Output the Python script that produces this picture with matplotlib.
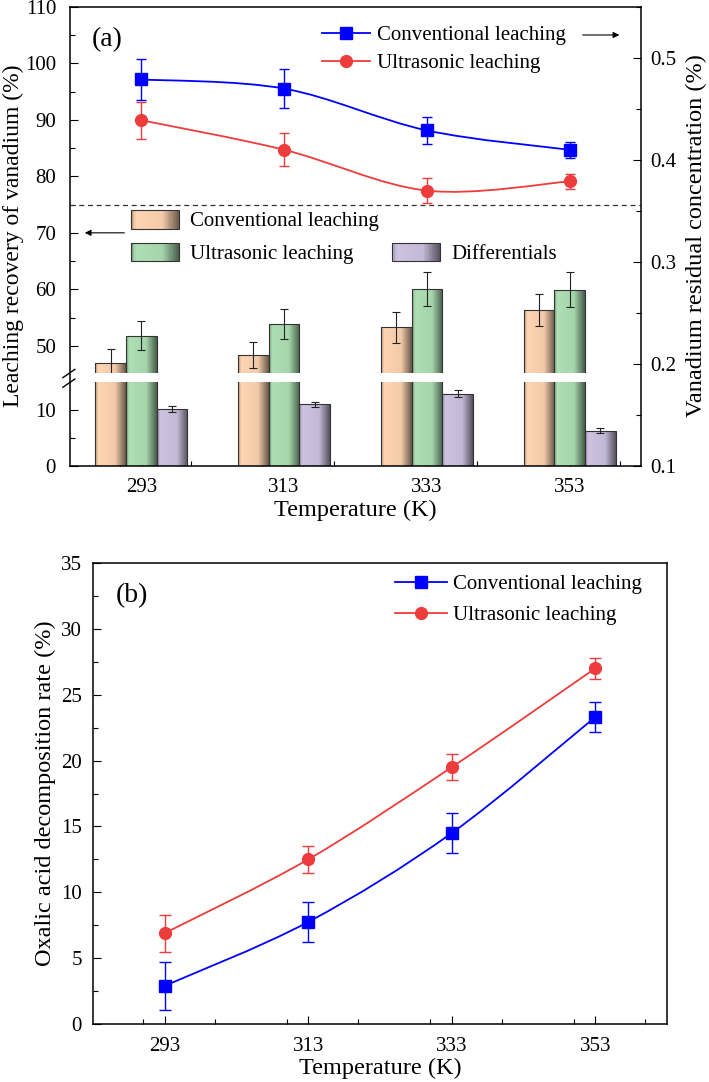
import numpy as np
import matplotlib
import matplotlib.pyplot as plt
import matplotlib.patches as mpatches
from matplotlib.path import Path
from matplotlib.lines import Line2D
from matplotlib.legend_handler import HandlerBase
from matplotlib.ticker import MultipleLocator, FixedLocator

matplotlib.use("Agg")

plt.rcParams["font.family"] = ["Liberation Serif", "DejaVu Serif"]

temperature = [293, 313, 333, 353]

# (a) bars, left axis (%)
conv_recovery = [46.9, 48.4, 53.3, 56.3]
conv_recovery_err = [2.5, 2.3, 2.7, 2.8]
ultra_recovery = [51.8, 53.9, 60.1, 59.9]
ultra_recovery_err = [2.6, 2.7, 3.0, 3.1]
diff_recovery = [10.2, 11.0, 12.9, 6.3]
diff_recovery_err = [0.5, 0.5, 0.6, 0.4]

# (a) lines, right axis (%)
conv_residual = [0.479, 0.470, 0.429, 0.410]
conv_residual_err = [0.020, 0.019, 0.013, 0.008]
ultra_residual = [0.439, 0.410, 0.370, 0.379]
ultra_residual_err = [0.018, 0.016, 0.012, 0.007]

# (b) oxalic acid decomposition rate (%)
conv_oxalic = [2.9, 7.75, 14.5, 23.3]
conv_oxalic_err = [1.8, 1.55, 1.5, 1.15]
ultra_oxalic = [6.9, 12.5, 19.5, 27.0]
ultra_oxalic_err = [1.4, 1.05, 1.0, 0.8]

BLUE = "#0000FF"
RED = "#EE3B3B"
PEACH = "#FFD5B2"
GREEN = "#AEE0B4"
LAVENDER = "#CDC3E1"
EDGE = "#333333"
FS = 15
LFS = 17.5


def shade(color, t):
    f = np.interp(t, [0.0, 0.1, 0.65, 1.0], [0.72, 1.0, 0.95, 0.42])
    return tuple(np.clip(np.array(matplotlib.colors.to_rgb(color)) * f, 0, 1))


class GradientHandler(HandlerBase):
    def create_artists(self, legend, orig_handle, xdescent, ydescent,
                       width, height, fontsize, trans):
        color = orig_handle.get_facecolor()
        n = 30
        artists = []
        for i in range(n):
            r = mpatches.Rectangle((-xdescent + width * i / n, -ydescent),
                                   width / n * 1.1, height,
                                   facecolor=shade(color, (i + 0.5) / n),
                                   edgecolor="none", transform=trans)
            artists.append(r)
        artists.append(mpatches.Rectangle((-xdescent, -ydescent), width, height,
                                          facecolor="none", edgecolor=EDGE,
                                          lw=0.8, transform=trans))
        return artists


def smooth_path(xs, ys):
    pts = list(zip(xs, ys))
    n = len(pts)
    verts = [pts[0]]
    codes = [Path.MOVETO]
    for i in range(n - 1):
        p0 = pts[max(i - 1, 0)]
        p1 = pts[i]
        p2 = pts[i + 1]
        p3 = pts[min(i + 2, n - 1)]
        c1 = (p1[0] + (p2[0] - p0[0]) / 6, p1[1] + (p2[1] - p0[1]) / 6)
        c2 = (p2[0] - (p3[0] - p1[0]) / 6, p2[1] - (p3[1] - p1[1]) / 6)
        verts += [c1, c2, p2]
        codes += [Path.CURVE4] * 3
    return Path(verts, codes)


def add_curve(ax, xs, ys, color):
    ax.add_patch(mpatches.PathPatch(smooth_path(xs, ys), fill=False,
                                    edgecolor=color, lw=1.3, zorder=4))


def gradient_bars(ax, x, vals, errs, width, color):
    bars = ax.bar(x, vals, width, facecolor="none", edgecolor=EDGE,
                  lw=0.8, zorder=3)
    img = np.array([[shade(color, t) for t in np.linspace(0, 1, 64)]])
    for rect in bars:
        x0, y0 = rect.get_xy()
        im = ax.imshow(img, extent=[x0, x0 + rect.get_width(), y0,
                                    y0 + rect.get_height()],
                       aspect="auto", interpolation="bilinear", zorder=2)
        # keep the axes clip box, add the bar outline as clip path
        im.set_clip_path(rect.get_path(), rect.get_transform())
    ax.errorbar(x, vals, yerr=errs, fmt="none", ecolor="#222222",
                elinewidth=0.8, capsize=3, capthick=0.8, zorder=4)


def style_ticks(ax):
    ax.tick_params(which="both", direction="in", labelsize=FS, width=0.8)
    ax.tick_params(which="major", length=6)
    ax.tick_params(which="minor", length=3.5)


def plot_top_graph(fig):
    W, H = 709, 1082
    left, right, top, bottom = 70, 641, 7, 466
    ax_up = fig.add_axes([left / W, (H - 373) / H, (right - left) / W, 366 / H])
    ax_low = fig.add_axes([left / W, (H - bottom) / H, (right - left) / W, 84 / H])
    ax_r = fig.add_axes([left / W, (H - bottom) / H, (right - left) / W,
                         (bottom - top) / H])
    ax_r.patch.set_alpha(0)

    x = np.array(temperature, dtype=float)
    bw = 4.3
    for ax in (ax_up, ax_low):
        gradient_bars(ax, x - bw, conv_recovery, conv_recovery_err, bw, PEACH)
        gradient_bars(ax, x, ultra_recovery, ultra_recovery_err, bw, GREEN)
        gradient_bars(ax, x + bw, diff_recovery, diff_recovery_err, bw, LAVENDER)
        ax.set_xlim(283, 363)
        for s in ax.spines.values():
            s.set_visible(False)
        style_ticks(ax)
        ax.xaxis.set_major_locator(FixedLocator(temperature))
        ax.xaxis.set_minor_locator(MultipleLocator(10))
        ax.tick_params(axis="y", pad=10)

    ax_up.set_ylim(45.2, 110)
    ax_up.yaxis.set_major_locator(MultipleLocator(10))
    ax_up.yaxis.set_minor_locator(MultipleLocator(5))
    ax_up.tick_params(axis="x", which="both", bottom=False, labelbottom=False)
    ax_up.axhline(75, color="#333333", ls=(0, (4, 3)), lw=0.9, zorder=5)

    ax_low.set_ylim(0, 15)
    ax_low.yaxis.set_major_locator(FixedLocator([0, 10]))
    ax_low.yaxis.set_minor_locator(FixedLocator([5]))
    ax_low.tick_params(axis="x", which="major", pad=9)
    ax_low.set_xticklabels([str(t) for t in temperature])
    ax_low.set_xlabel("Temperature (K)", fontsize=LFS, labelpad=2)

    ax_up.set_ylabel("Leaching recovery of vanadium (%)", fontsize=17)
    ax_up.yaxis.set_label_coords(-0.081, 0.374)

    # residual concentration on the right axis
    ax_r.errorbar(temperature, conv_residual, yerr=conv_residual_err, fmt="s",
                  color=BLUE, ms=8, capsize=3.3, elinewidth=1, zorder=5)
    ax_r.errorbar(temperature, ultra_residual, yerr=ultra_residual_err, fmt="o",
                  color=RED, ms=8.5, capsize=3.3, elinewidth=1, zorder=5)
    add_curve(ax_r, temperature, conv_residual, BLUE)
    add_curve(ax_r, temperature, ultra_residual, RED)
    ax_r.set_xlim(283, 363)
    ax_r.set_ylim(0.1, 0.55)
    style_ticks(ax_r)
    ax_r.yaxis.set_major_locator(MultipleLocator(0.1))
    ax_r.yaxis.set_minor_locator(MultipleLocator(0.05))
    ax_r.tick_params(axis="y", which="both", left=False, right=True,
                     labelleft=False, labelright=True, pad=6.5)
    ax_r.tick_params(axis="x", which="both", bottom=False, labelbottom=False)
    ax_r.yaxis.set_label_position("right")
    ax_r.set_ylabel("Vanadium residual concentration (%)", fontsize=LFS)
    ax_r.yaxis.set_label_coords(1.079, 0.501)
    for s in ax_r.spines.values():
        s.set_linewidth(1.1)

    line_handles = [
        Line2D([], [], color=BLUE, marker="s", ms=8, lw=1.3,
               label="Conventional leaching"),
        Line2D([], [], color=RED, marker="o", ms=8.5, lw=1.3,
               label="Ultrasonic leaching"),
    ]
    leg1 = ax_r.legend(handles=line_handles, loc="upper left",
                       bbox_to_anchor=(0.441, 0.96), frameon=False, fontsize=FS,
                       handlelength=2.3, handletextpad=0.35, labelspacing=0.4,
                       borderpad=0, borderaxespad=0)
    ax_r.add_artist(leg1)

    bar_handles = [
        mpatches.Patch(facecolor=PEACH, label="Conventional leaching"),
        mpatches.Patch(facecolor=GREEN, label="Ultrasonic leaching"),
        mpatches.Patch(facecolor="none", edgecolor="none", label=" "),
        mpatches.Patch(facecolor=LAVENDER, label="Differentials"),
    ]
    hmap = {h: GradientHandler() for h in (bar_handles[0], bar_handles[1],
                                           bar_handles[3])}
    ax_r.legend(handles=bar_handles, handler_map=hmap, ncol=2, loc="upper left",
                bbox_to_anchor=(0.107, 0.558), frameon=False, fontsize=FS,
                handlelength=2.3, handleheight=1.0, handletextpad=0.55,
                labelspacing=0.55, columnspacing=0.6, borderpad=0,
                borderaxespad=0)

    ax_r.text(0.0385, 0.956, "(a)", transform=ax_r.transAxes, fontsize=20,
              va="top", ha="left")
    ax_r.annotate("", xy=(0.967, 0.939), xytext=(0.893, 0.939),
                  xycoords="axes fraction",
                  arrowprops=dict(arrowstyle="-|>", color="black", lw=0.8,
                                  mutation_scale=9))
    ax_r.annotate("", xy=(0.021, 0.508), xytext=(0.1, 0.508),
                  xycoords="axes fraction",
                  arrowprops=dict(arrowstyle="-|>", color="black", lw=0.8,
                                  mutation_scale=9))

    # axis break marks crossing the left spine
    for yc in (0.2015, 0.1805):
        ax_r.plot([-0.0125, 0.0085], [yc - 0.009, yc + 0.009],
                  transform=ax_r.transAxes, color="black", lw=1.0,
                  clip_on=False, zorder=11)


def plot_bottom_graph(fig):
    W, H = 709, 1082
    ax = fig.add_axes([93 / W, (H - 1024) / H, 574 / W, 461 / H])
    ax.errorbar(temperature, conv_oxalic, yerr=conv_oxalic_err, fmt="s",
                color=BLUE, ms=8, capsize=4, elinewidth=1, zorder=5)
    ax.errorbar(temperature, ultra_oxalic, yerr=ultra_oxalic_err, fmt="o",
                color=RED, ms=8.5, capsize=4, elinewidth=1, zorder=5)
    add_curve(ax, temperature, conv_oxalic, BLUE)
    add_curve(ax, temperature, ultra_oxalic, RED)
    ax.set_xlim(283, 363)
    ax.set_ylim(0, 35)
    style_ticks(ax)
    ax.xaxis.set_major_locator(FixedLocator(temperature))
    ax.xaxis.set_minor_locator(MultipleLocator(10))
    ax.yaxis.set_major_locator(MultipleLocator(5))
    ax.yaxis.set_minor_locator(MultipleLocator(2.5))
    ax.tick_params(axis="x", which="major", pad=9.5)
    ax.tick_params(axis="y", pad=8)
    for s in ax.spines.values():
        s.set_linewidth(1.1)
    ax.set_xlabel("Temperature (K)", fontsize=LFS, labelpad=1)
    ax.set_ylabel("Oxalic acid decomposition rate (%)", fontsize=LFS)
    ax.yaxis.set_label_coords(-0.064, 0.5)
    ax.text(0.04, 0.957, "(b)", transform=ax.transAxes, fontsize=20,
            va="top", ha="left")
    handles = [
        Line2D([], [], color=BLUE, marker="s", ms=8, lw=1.3,
               label="Conventional leaching"),
        Line2D([], [], color=RED, marker="o", ms=8.5, lw=1.3,
               label="Ultrasonic leaching"),
    ]
    ax.legend(handles=handles, loc="upper left", bbox_to_anchor=(0.526, 0.975),
              frameon=False, fontsize=FS, handlelength=2.5, handletextpad=0.3,
              labelspacing=0.55, borderpad=0, borderaxespad=0)


fig = plt.figure(figsize=(7.09, 10.82), dpi=100)
plot_top_graph(fig)
plot_bottom_graph(fig)
fig.savefig("out.png", dpi=100)
plt.close(fig)
